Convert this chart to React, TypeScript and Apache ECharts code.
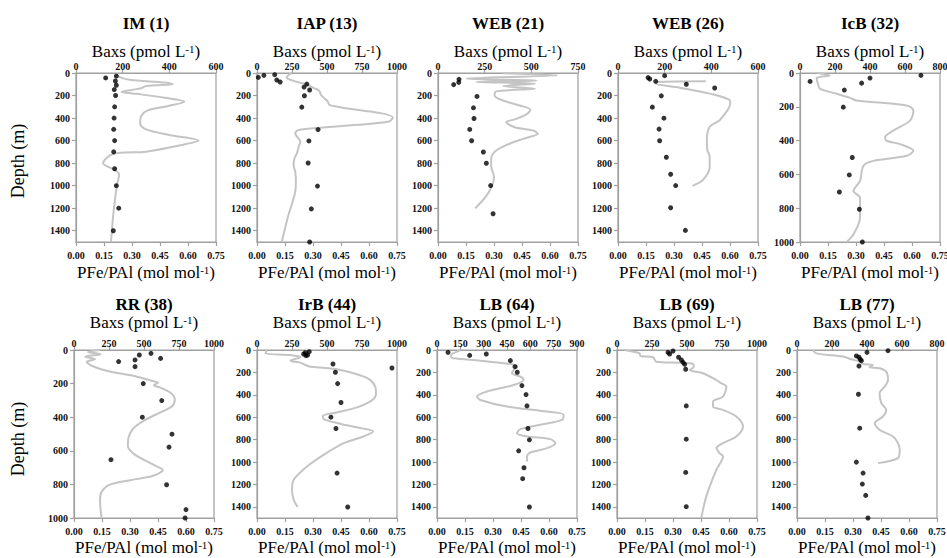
import React, { useEffect, useRef } from "react";
import * as echarts from "echarts";

const SERIF = "Liberation Serif";

// ---- data: [Baxs (pmol/L), depth (m)] for gray lines; [PFe/PAl, depth] for dots ----
const imBaxs = [[175,0],[180,30],[230,60],[380,85],[415,100],[300,115],[280,135],[240,150],[195,168],[260,185],[380,220],[465,255],[400,290],[310,330],[280,380],[275,450],[300,500],[400,550],[525,600],[450,640],[300,698],[158,719],[116,801],[166,860],[185,900],[175,1000],[160,1250],[150,1500]];
const imRatio = [[0.216,27],[0.159,44],[0.211,71],[0.216,109],[0.205,147],[0.212,200],[0.207,300],[0.204,400],[0.202,500],[0.207,600],[0.202,700],[0.207,850],[0.216,1000],[0.229,1200],[0.2,1400]];

const iapBaxs = [[244,0],[212,39],[273,74],[346,98],[407,134],[444,157],[456,193],[480,223],[505,252],[517,282],[566,297],[712,327],[883,356],[970,395],[944,431],[712,460],[468,484],[298,505],[273,535],[285,564],[310,609],[298,653],[285,713],[268,757],[261,817],[273,876],[278,965],[273,1054],[254,1143],[224,1262],[200,1381],[176,1500]];
const iapRatio = [[0.095,15],[0.037,21],[0.007,39],[0.106,62],[0.124,80],[0.267,98],[0.252,125],[0.282,151],[0.254,202],[0.24,303],[0.327,502],[0.278,603],[0.274,799],[0.324,1004],[0.291,1206],[0.282,1500]];

const web21Baxs = [[348,3],[640,21],[152,50],[530,68],[205,80],[520,95],[348,116],[520,140],[312,163],[303,199],[348,244],[437,288],[495,325],[480,360],[420,407],[366,437],[411,481],[510,511],[535,540],[455,585],[380,630],[310,690],[285,760],[285,830],[300,920],[290,1000],[255,1100],[200,1200]];
const web21Ratio = [[0.1125,56],[0.111,83],[0.084,103],[0.209,208],[0.19,309],[0.193,404],[0.17,501],[0.18,601],[0.243,701],[0.259,801],[0.282,999],[0.295,1249]];

const web26Baxs = [[376,74],[165,80],[162,94],[264,130],[393,183],[479,242],[481,271],[436,418],[393,477],[381,595],[383,684],[393,743],[393,831],[364,949],[319,1002]];
const web26Ratio = [[0.25,24],[0.161,41],[0.17,53],[0.202,74],[0.366,100],[0.518,133],[0.232,203],[0.184,303],[0.246,401],[0.22,498],[0.223,601],[0.259,748],[0.282,899],[0.309,999],[0.282,1196],[0.361,1397]];

const icbBaxs = [[100,0],[170,15],[95,30],[100,55],[114,93],[210,123],[286,147],[324,163],[610,192],[648,222],[629,282],[533,341],[486,381],[495,401],[571,421],[648,460],[610,490],[419,520],[362,550],[343,639],[305,698],[343,738],[343,857],[305,956],[267,1000]];
const icbRatio = [[0.648,14],[0.375,30],[0.054,50],[0.33,60],[0.2375,101],[0.232,202],[0.28,500],[0.264,603],[0.211,704],[0.318,806],[0.334,1000]];

const rrBaxs = [[186,0],[100,12],[190,25],[80,40],[150,55],[90,70],[130,95],[240,125],[430,155],[540,180],[600,195],[570,210],[620,225],[690,255],[720,295],[700,335],[620,370],[500,420],[420,470],[390,520],[385,570],[430,620],[560,680],[635,715],[560,750],[400,775],[260,800],[200,840],[186,890],[190,950],[198,1000]];
const rrRatio = [[0.4125,20],[0.35,30],[0.464,50],[0.327,59],[0.239,69],[0.327,99],[0.371,200],[0.47,301],[0.366,400],[0.525,501],[0.509,578],[0.198,653],[0.496,802],[0.6,950],[0.595,1000]];

const irbBaxs = [[71,0],[60,30],[238,45],[310,65],[262,83],[238,95],[310,113],[345,134],[381,149],[452,157],[571,172],[690,208],[800,260],[845,330],[850,390],[820,450],[720,510],[560,560],[470,590],[480,620],[600,660],[750,700],[830,728],[760,772],[620,832],[476,936],[357,1040],[262,1158],[250,1247],[262,1337],[290,1402]];
const irbRatio = [[0.28,15],[0.259,24],[0.25,36],[0.271,45],[0.262,50],[0.723,161],[0.407,125],[0.42,199],[0.432,300],[0.45,469],[0.396,600],[0.423,701],[0.429,1099],[0.486,1402]];

const lb64Baxs = [[150,0],[129,15],[96,36],[90,59],[107,74],[279,95],[429,119],[482,128],[514,149],[493,178],[482,208],[536,238],[557,267],[493,312],[321,371],[257,416],[279,446],[450,505],[707,549],[814,579],[804,624],[664,668],[536,707],[514,743],[579,772],[729,796],[761,832],[707,876],[600,915],[579,950],[579,995]];
const lb64Ratio = [[0.059,21],[0.264,36],[0.175,48],[0.393,95],[0.418,149],[0.43,199],[0.455,318],[0.477,398],[0.482,499],[0.4875,701],[0.495,802],[0.4375,900],[0.466,1051],[0.459,1149],[0.495,1402]];

const lb69Baxs = [[55,0],[162,30],[167,53],[257,65],[281,104],[448,113],[543,125],[548,154],[519,178],[614,208],[686,252],[745,297],[781,327],[757,416],[686,460],[686,505],[757,535],[852,594],[900,683],[852,772],[757,832],[710,876],[733,921],[757,950],[710,1069],[638,1307],[602,1500]];
const lb69Ratio = [[0.3,9],[0.273,21],[0.282,36],[0.33,65],[0.345,89],[0.354,110],[0.3625,128],[0.368,172],[0.371,499],[0.371,796],[0.368,1093],[0.371,1399]];

const lb77Baxs = [[91,0],[110,30],[263,59],[310,83],[358,104],[377,125],[434,134],[415,154],[472,163],[510,193],[520,267],[501,327],[472,386],[482,475],[510,535],[491,594],[444,653],[472,713],[549,772],[577,832],[587,891],[577,965],[463,1010]];
const lb77Ratio = [[0.4875,6],[0.375,21],[0.318,53],[0.332,65],[0.339,83],[0.345,95],[0.332,143],[0.329,395],[0.336,698],[0.318,1001],[0.354,1099],[0.35,1197],[0.368,1298],[0.38,1500]];

const titles = ["IM (1)", "IAP (13)", "WEB (21)", "WEB (26)", "IcB (32)", "RR (38)", "IrB (44)", "LB (64)", "LB (69)", "LB (77)"];
const baxsSeries = [imBaxs, iapBaxs, web21Baxs, web26Baxs, icbBaxs, rrBaxs, irbBaxs, lb64Baxs, lb69Baxs, lb77Baxs];
const ratioSeries = [imRatio, iapRatio, web21Ratio, web26Ratio, icbRatio, rrRatio, irbRatio, lb64Ratio, lb69Ratio, lb77Ratio];
const baxsMax = [600, 1000, 750, 600, 800, 1000, 1000, 900, 1000, 800];
const baxsStep = [200, 250, 250, 200, 200, 250, 250, 150, 250, 200];
const depthMax = [1500, 1500, 1500, 1500, 1000, 1000, 1500, 1500, 1500, 1500];
const ratioMax = 0.75;
const ratioStep = 0.15;
const depthStep = 200;

// ---- layout ----
const LEFTS = [[76, 257, 438, 618, 800], [74, 257, 437, 617, 797]];
const ROW_TOP = [73, 350];
const ROW_H = [169, 168];
const PW = 140;
const TITLE_Y = [23, 304];
const TOPNAME_Y = [51, 322];
const BOTNAME_Y = [272, 547];
const DEPTH_Y = [161, 439];
const AXIS_COLOR = "#a0a0a0";

export default function App() {
  const ref = useRef<HTMLDivElement>(null);
  useEffect(() => {
    document.body.style.margin = "0";
    const chart = echarts.init(ref.current!, null, { renderer: "svg" });
    const grid: any[] = [];
    const xAxis: any[] = [];
    const yAxis: any[] = [];
    const series: any[] = [];
    const graphic: any[] = [];
    const lineStyle = { color: AXIS_COLOR, width: 1.2 };
    const tickLabel = { fontSize: 10, fontWeight: "bold", fontFamily: SERIF, color: "#111" };
    const richName = {
      a: { fontSize: 17, fontFamily: SERIF, fill: "#000", color: "#000", lineHeight: 16 },
      s: { fontSize: 11, fontFamily: SERIF, fill: "#000", color: "#000", verticalAlign: "top", lineHeight: 10 },
    };
    titles.forEach((t, i) => {
      const r = Math.floor(i / 5);
      const c = i % 5;
      const left = LEFTS[r][c];
      const top = ROW_TOP[r];
      const cx = left + PW / 2;
      grid.push({
        left, top, width: PW, height: ROW_H[r], show: true,
        borderColor: AXIS_COLOR, borderWidth: 1.2, backgroundColor: "transparent",
        containLabel: false, outerBoundsMode: "none",
      });
      xAxis.push({
        type: "value", gridIndex: i, position: "top", min: 0, max: baxsMax[i], interval: baxsStep[i],
        axisLine: { show: true, onZero: false, lineStyle },
        axisTick: { show: true, length: 4, lineStyle },
        axisLabel: { ...tickLabel, margin: 2, formatter: (v: number) => String(v), showMinLabel: true, showMaxLabel: true, hideOverlap: false },
        splitLine: { show: false },
      });
      xAxis.push({
        type: "value", gridIndex: i, position: "bottom", min: 0, max: ratioMax, interval: ratioStep,
        axisLine: { show: true, onZero: false, lineStyle },
        axisTick: { show: true, length: 4, lineStyle },
        axisLabel: { ...tickLabel, margin: 8, formatter: (v: number) => v.toFixed(2), showMinLabel: true, showMaxLabel: true, hideOverlap: false },
        splitLine: { show: false },
      });
      yAxis.push({
        type: "value", gridIndex: i, inverse: true, min: 0, max: depthMax[i], interval: depthStep,
        axisLine: { show: true, onZero: false, lineStyle },
        axisTick: { show: true, length: 4, lineStyle },
        axisLabel: { ...tickLabel, margin: 6, formatter: (v: number) => String(v), showMaxLabel: depthMax[i] % depthStep === 0, hideOverlap: false },
        splitLine: { show: false },
      });
      series.push({
        type: "line", xAxisIndex: 2 * i, yAxisIndex: i, data: baxsSeries[i],
        showSymbol: false, symbol: "none", smooth: 0.3,
        lineStyle: { color: "#c4c4c4", width: 2 }, z: 2,
      });
      series.push({
        type: "scatter", xAxisIndex: 2 * i + 1, yAxisIndex: i, data: ratioSeries[i],
        symbolSize: 5, itemStyle: { color: "#000" }, clip: false, z: 3,
      });
      graphic.push({
        type: "text", x: cx, y: TITLE_Y[r],
        style: { text: t, fontSize: 17, fontWeight: "bold", fontFamily: SERIF, fill: "#000", align: "center", verticalAlign: "middle" },
      });
      graphic.push({
        type: "text", x: cx, y: TOPNAME_Y[r],
        style: { text: "{a|Baxs (pmol L}{s|-1}{a|)}", rich: richName, fontFamily: SERIF, align: "center", verticalAlign: "middle", fill: "#000" },
      });
      graphic.push({
        type: "text", x: cx, y: BOTNAME_Y[r],
        style: { text: "{a|PFe/PAl (mol mol}{s|-1}{a|)}", rich: richName, fontFamily: SERIF, align: "center", verticalAlign: "middle", fill: "#000" },
      });
      if (c === 0) {
        graphic.push({
          type: "text", x: 18, y: DEPTH_Y[r], rotation: Math.PI / 2,
          style: { text: "Depth (m)", fontSize: 18, fontFamily: SERIF, fill: "#000", align: "center", verticalAlign: "middle" },
        });
      }
    });
    chart.setOption({
      animation: false,
      backgroundColor: "#fff",
      textStyle: { fontFamily: SERIF },
      grid, xAxis, yAxis, series, graphic,
    });
    return () => chart.dispose();
  }, []);
  return <div ref={ref} style={{ width: 947, height: 558 }} />;
}
